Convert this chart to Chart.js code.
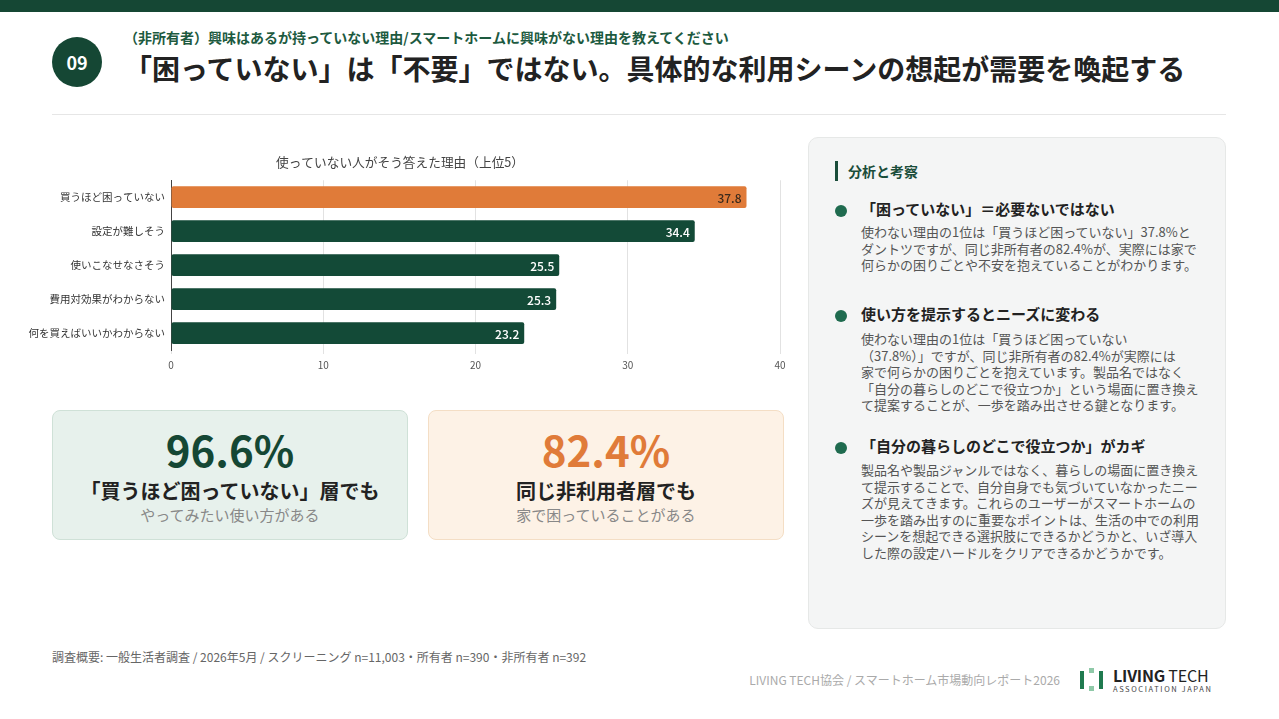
<!DOCTYPE html>
<html lang="ja">
<head>
<meta charset="utf-8">
<script src="https://cdn.jsdelivr.net/npm/chart.js@4.4.1/dist/chart.umd.min.js"></script>
<style>
  * { margin: 0; padding: 0; box-sizing: border-box; }
  body { width: 1279px; height: 719px; background: #fff; position: relative; overflow: hidden;
         font-family: "Noto Sans CJK JP", "Noto Sans", sans-serif; color: #222; }
  .abs { position: absolute; white-space: nowrap; }
  .topband { left: 0; top: 0; width: 1279px; height: 12px; background: #154734; }
  .num { left: 52px; top: 37px; width: 50px; height: 50px; border-radius: 50%; background: #154734;
         color: #fff; font-weight: 700; font-size: 18px; line-height: 50px; text-align: center; }
  .sub { left: 124px; top: 27px; font-size: 14px; font-weight: 700; color: #1d5a3f; line-height: 20px; }
  .title { left: 124px; top: 48px; font-size: 28px; font-weight: 700; color: #222; line-height: 40px; }
  .rule { left: 52px; top: 114px; width: 1174px; height: 1px; background: #e6e6e6; }
  #chartBox { position: absolute; left: 20px; top: 140px; width: 780px; height: 240px; }
  .stat { top: 410px; width: 356px; height: 130px; border-radius: 8px; text-align: center; }
  .stat.g { left: 52px; background: #e7f1ec; border: 1px solid #cfe1d7; }
  .stat.o { left: 428px; background: #fdf2e6; border: 1px solid #f4dec5; }
  .stat .big { margin-top: 13px; font-size: 42px; font-weight: 700; line-height: 50px; }
  .stat .mid { margin-top: 4px; font-size: 20px; font-weight: 700; color: #222; line-height: 26px; }
  .stat .small { margin-top: 0px; font-size: 15px; color: #888; line-height: 22px; }
  .panel { left: 808px; top: 137px; width: 418px; height: 492px; background: #f4f5f5;
           border: 1px solid #e6e8e7; border-radius: 10px; }
  .ptitle { left: 835px; top: 161px; font-size: 14px; font-weight: 700; color: #1a4d3a; line-height: 20px;
            padding-left: 10px; border-left: 3px solid #1a4d3a; }
  .dot { width: 12px; height: 12px; border-radius: 50%; background: #1f6b4f; }
  .h { left: 861px; font-size: 15px; font-weight: 700; color: #222; line-height: 20px; }
  .b { left: 861px; font-size: 13px; color: #555; line-height: 16.5px; }
  .foot { left: 52px; top: 649px; font-size: 12px; color: #666; line-height: 16px; }
  .foot2 { right: 219px; top: 672px; font-size: 12px; color: #aaa; line-height: 16px; }
  .logo { left: 1113px; top: 666px; }
  .logo .t1 { font-size: 16px; line-height: 18px; color: #222; letter-spacing: -0.2px; }
  .logo .t2 { font-size: 7.5px; line-height: 9px; color: #444; letter-spacing: 1.6px; }
</style>
</head>
<body>
<div class="abs topband"></div>
<div class="abs num">09</div>
<div class="abs sub">（非所有者）興味はあるが持っていない理由/スマートホームに興味がない理由を教えてください</div>
<div class="abs title">「困っていない」は「不要」ではない。具体的な利用シーンの想起が需要を喚起する</div>
<div class="abs rule"></div>

<div id="chartBox"><canvas id="chart"></canvas></div>

<div class="abs stat g">
  <div class="big" style="color:#154734">96.6%</div>
  <div class="mid">「買うほど困っていない」層でも</div>
  <div class="small">やってみたい使い方がある</div>
</div>
<div class="abs stat o">
  <div class="big" style="color:#e07b39">82.4%</div>
  <div class="mid">同じ非利用者層でも</div>
  <div class="small">家で困っていることがある</div>
</div>

<div class="abs panel"></div>
<div class="abs ptitle">分析と考察</div>

<div class="abs dot" style="left:835px;top:205px"></div>
<div class="abs h" style="top:199px">「困っていない」＝必要ないではない</div>
<div class="abs b" style="top:224px">使わない理由の1位は「買うほど困っていない」37.8%と<br>ダントツですが、同じ非所有者の82.4%が、実際には家で<br>何らかの困りごとや不安を抱えていることがわかります。</div>

<div class="abs dot" style="left:835px;top:310px"></div>
<div class="abs h" style="top:304px">使い方を提示するとニーズに変わる</div>
<div class="abs b" style="top:331px">使わない理由の1位は「買うほど困っていない<br>（37.8%）」ですが、同じ非所有者の82.4%が実際には<br>家で何らかの困りごとを抱えています。製品名ではなく<br>「自分の暮らしのどこで役立つか」という場面に置き換え<br>て提案することが、一歩を踏み出させる鍵となります。</div>

<div class="abs dot" style="left:835px;top:442px"></div>
<div class="abs h" style="top:436px">「自分の暮らしのどこで役立つか」がカギ</div>
<div class="abs b" style="top:462px">製品名や製品ジャンルではなく、暮らしの場面に置き換え<br>て提示することで、自分自身でも気づいていなかったニー<br>ズが見えてきます。これらのユーザーがスマートホームの<br>一歩を踏み出すのに重要なポイントは、生活の中での利用<br>シーンを想起できる選択肢にできるかどうかと、いざ導入<br>した際の設定ハードルをクリアできるかどうかです。</div>

<div class="abs foot">調査概要: 一般生活者調査 / 2026年5月 / スクリーニング n=11,003・所有者 n=390・非所有者 n=392</div>
<div class="abs foot2">LIVING TECH協会 / スマートホーム市場動向レポート2026</div>

<svg class="abs" style="left:1080px;top:668px" width="24" height="24" viewBox="0 0 24 24">
  <rect x="0" y="3" width="4" height="18" fill="#1f7a4f"/>
  <rect x="9" y="0" width="5" height="5" fill="#8fc9a8"/>
  <rect x="9" y="18" width="5" height="5" fill="#8fc9a8"/>
  <rect x="19" y="3" width="4" height="18" fill="#1f7a4f"/>
</svg>
<div class="abs logo">
  <div class="t1"><b>LIVING</b> TECH</div>
  <div class="t2">ASSOCIATION JAPAN</div>
</div>

<script>
// 使っていない人がそう答えた理由（上位5）
const reasons = ['買うほど困っていない', '設定が難しそう', '使いこなせなさそう', '費用対効果がわからない', '何を買えばいいかわからない'];
const shares = [37.8, 34.4, 25.5, 25.3, 23.2];
const axisMax = 40;
const axisStep = 10;

const GREEN = '#134a37';
const ORANGE = '#e07b39';

Chart.defaults.font.family = '"Noto Sans CJK JP", "Noto Sans", sans-serif';

// value at the end of each bar
const valueLabels = {
  id: 'valueLabels',
  afterDatasetsDraw(chart) {
    const { ctx } = chart;
    const meta = chart.getDatasetMeta(0);
    meta.data.forEach((bar, i) => {
      ctx.save();
      ctx.font = '500 12px "Noto Sans CJK JP", sans-serif';
      ctx.fillStyle = i === 0 ? '#3b2a1c' : '#ffffff';
      ctx.textAlign = 'right';
      ctx.textBaseline = 'middle';
      ctx.fillText(shares[i].toFixed(1), bar.x - 5, bar.y + 1);
      ctx.restore();
    });
  }
};

new Chart(document.getElementById('chart'), {
  type: 'bar',
  data: {
    labels: reasons,
    datasets: [{
      data: shares,
      backgroundColor: shares.map((v, i) => i === 0 ? ORANGE : GREEN),
      borderRadius: 2,
      borderSkipped: false,
      barPercentage: 0.64,
      categoryPercentage: 1
    }]
  },
  options: {
    indexAxis: 'y',
    responsive: true,
    maintainAspectRatio: false,
    animation: false,
    layout: { padding: { left: 0, right: 20, top: 0, bottom: 4 } },
    plugins: {
      legend: { display: false },
      tooltip: { enabled: false },
      title: {
        display: true,
        text: '使っていない人がそう答えた理由（上位5）',
        color: '#444',
        font: { size: 12.7, weight: 'normal' },
        padding: { top: 15, bottom: 10 }
      }
    },
    scales: {
      x: {
        min: 0,
        max: axisMax,
        ticks: { stepSize: axisStep, color: '#555', font: { size: 10 }, padding: 5 },
        grid: { color: '#e2e2e2', tickLength: 4 },
        border: { display: false }
      },
      y: {
        afterFit(scale) { scale.width = 151; },
        ticks: { color: '#333', font: { size: 10.5 }, padding: 6 },
        grid: { display: false, drawTicks: false },
        border: { display: true, color: '#444', width: 1 }
      }
    }
  },
  plugins: [valueLabels]
});
</script>
</body>
</html>
